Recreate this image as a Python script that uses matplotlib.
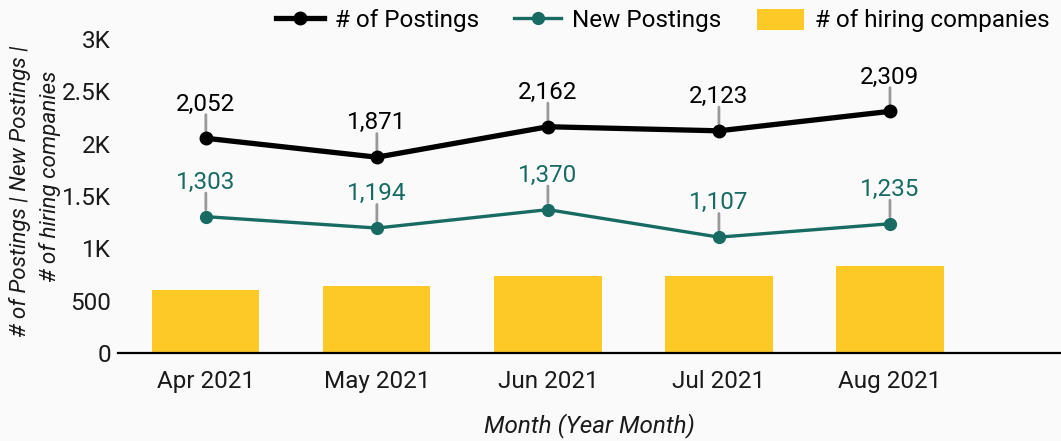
import matplotlib
matplotlib.use("Agg")
import matplotlib.pyplot as plt
from matplotlib.lines import Line2D
from matplotlib.patches import Patch
from matplotlib.ticker import FuncFormatter

months = ["Apr 2021", "May 2021", "Jun 2021", "Jul 2021", "Aug 2021"]
postings = [2052, 1871, 2162, 2123, 2309]
new_postings = [1303, 1194, 1370, 1107, 1235]
hiring_companies = [602, 640, 736, 736, 832]

BLACK = "#000000"
TEAL = "#176b63"
YELLOW = "#fdc926"
GRAY = "#999999"
BG = "#fafafa"
FS = 17.5

plt.rcParams["font.family"] = ["Roboto", "DejaVu Sans"]

fig = plt.figure(figsize=(10.61, 4.41), dpi=100, facecolor=BG)
ax = fig.add_axes([0.111, 0.1995, 0.889, 0.712])
ax.set_facecolor(BG)

x = list(range(len(months)))
ax.bar(x, hiring_companies, width=0.627, color=YELLOW, zorder=1)
ax.plot(x, new_postings, color=TEAL, lw=2.4, marker="o", ms=8.5, zorder=3)
ax.plot(x, postings, color=BLACK, lw=3.8, marker="o", ms=9, zorder=4)

for series, color in ((postings, BLACK), (new_postings, TEAL)):
    for i, v in zip(x, series):
        ax.annotate("", xy=(i, v), xytext=(0, 17), textcoords="offset points",
                    arrowprops=dict(arrowstyle="-", color=GRAY, lw=2,
                                    shrinkA=0, shrinkB=5), zorder=2)
        ax.annotate(f"{v:,}", xy=(i, v), xytext=(0, 20), textcoords="offset points",
                    ha="center", va="baseline", fontsize=FS, color=color)

ax.set_xlim(-0.515, 5.0)
ax.set_ylim(0, 3000)
ax.set_xticks(x)
ax.set_xticklabels(months, fontsize=FS, color="#1a1a1a")
ax.set_yticks([0, 500, 1000, 1500, 2000, 2500, 3000])
ax.yaxis.set_major_formatter(FuncFormatter(
    lambda v, p: "0" if v == 0 else (f"{v/1000:g}K" if v >= 1000 else f"{int(v)}")))
ax.tick_params(axis="y", length=0, pad=5, labelsize=FS, labelcolor="#1a1a1a")
ax.tick_params(axis="x", length=0, pad=12)
for s in ("top", "right", "left"):
    ax.spines[s].set_visible(False)
ax.spines["bottom"].set_linewidth(1.6)
ax.spines["bottom"].set_color("#000000")

ax.set_xlabel("Month (Year Month)", fontsize=FS, style="italic", labelpad=15, color="#1a1a1a")
# two-line y-axis title
ax.text(-0.1039, 0.516, "# of Postings | New Postings |", transform=ax.transAxes,
        rotation=90, ha="center", va="center", fontsize=16.2, style="italic", color="#1a1a1a")
ax.text(-0.0721, 0.562, "# of hiring companies", transform=ax.transAxes,
        rotation=90, ha="center", va="center", fontsize=16.2, style="italic", color="#1a1a1a")

handles = [
    Line2D([], [], color=BLACK, lw=3.8, marker="o", ms=9),
    Line2D([], [], color=TEAL, lw=2.4, marker="o", ms=8.5),
    Patch(facecolor=YELLOW, edgecolor="none"),
]
fig.legend(handles, ["# of Postings", "New Postings", "# of hiring companies"],
           loc="upper right", bbox_to_anchor=(1.01, 1.03), ncol=3, frameon=False,
           fontsize=FS, handlelength=1.95, handleheight=0.95, columnspacing=1.45,
           handletextpad=0.45)

fig.savefig("out.png", dpi=100, facecolor=BG)
